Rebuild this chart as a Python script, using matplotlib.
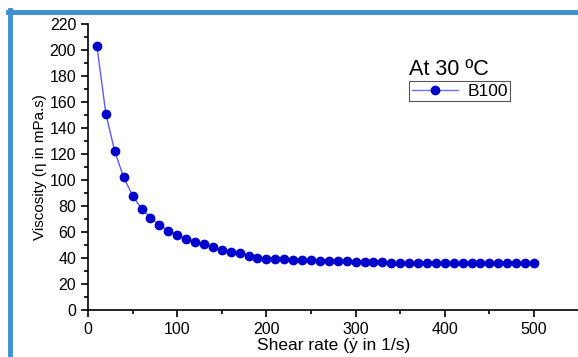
import numpy as np
import matplotlib.pyplot as plt
from matplotlib.lines import Line2D

# viscosity of B100 at 30 C
shearRate = np.arange(10, 501, 10)
viscosity = [203, 151, 122, 102, 88, 78, 71, 65.5, 61, 58,
             55, 52.5, 50.5, 48.5, 46.5, 45, 43.8, 41.8, 40.2, 39.2,
             39.5, 39, 38.7, 38.3, 38.2, 38, 38, 37.6, 37.5, 37.3,
             37.1, 36.9, 36.6, 36.5, 36.4, 36.3, 36.3, 36.2, 36.2, 36.2,
             36.1, 36.1, 36.1, 36.1, 36.1, 36.1, 36.2, 36.2, 36.2, 36.3]

seriesName = 'B100'
xTicks = [0, 100, 200, 300, 400, 500]
yTicks = list(range(0, 221, 20))

plt.rcParams['font.family'] = ['Liberation Sans', 'DejaVu Sans']

fig = plt.figure(figsize=(5.78, 3.57), dpi=100)
ax = fig.add_axes([88/578, 47/357, 490.6/578, 286/357])

ax.plot(shearRate, viscosity, '-', color='#5a5aff', lw=1, zorder=2)
ax.plot(shearRate, viscosity, 'o', color='#0000cc', ms=6, mec='#0000cc', zorder=3)

ax.set_xlim(0, 550)
ax.set_ylim(0, 220)
ax.set_xticks(xTicks)
ax.set_xticks(np.arange(50, 551, 100), minor=True)
ax.set_yticks(yTicks)
ax.set_yticks(np.arange(10, 221, 20), minor=True)
ax.tick_params(which='major', direction='out', length=5, width=1.2, labelsize=11.5)
ax.tick_params(which='minor', direction='out', length=3, width=1.2)
for s in ['top', 'right']:
    ax.spines[s].set_visible(False)
for s in ['left', 'bottom']:
    ax.spines[s].set_linewidth(1.2)

ax.set_xlabel('Shear rate (ẏ in 1/s)', fontsize=12.5, labelpad=1)
ax.set_ylabel('Viscosity (η in mPa.s)', fontsize=11, labelpad=2,
              family=['Liberation Sans Narrow', 'Liberation Sans', 'DejaVu Sans'])

fig.text(409/578, 1 - 80/357, 'At 30 ºC', fontsize=15.5, ha='left', va='bottom')
handle = Line2D([], [], color='#7070ff', lw=1, marker='o', ms=6,
                mfc='#0000cc', mec='#0000cc')
leg = ax.legend([handle], [seriesName], loc='upper left',
                bbox_to_anchor=(409/578, 1 - 81/357), bbox_transform=fig.transFigure,
                borderaxespad=0, fancybox=False, framealpha=1, fontsize=12.5,
                handlelength=2.7, borderpad=0.15, handletextpad=0.5)
leg.get_frame().set_edgecolor('#555555')
leg.get_frame().set_linewidth(0.8)

# light blue frame around the figure
fig.add_artist(Line2D([8/578, 1], [1 - 11.5/357, 1 - 11.5/357], color='#3f8fd2', lw=3.5))
fig.add_artist(Line2D([10/578, 10/578], [0, 1 - 10/357], color='#3f8fd2', lw=3.5))

fig.savefig('out.png', dpi=100)
